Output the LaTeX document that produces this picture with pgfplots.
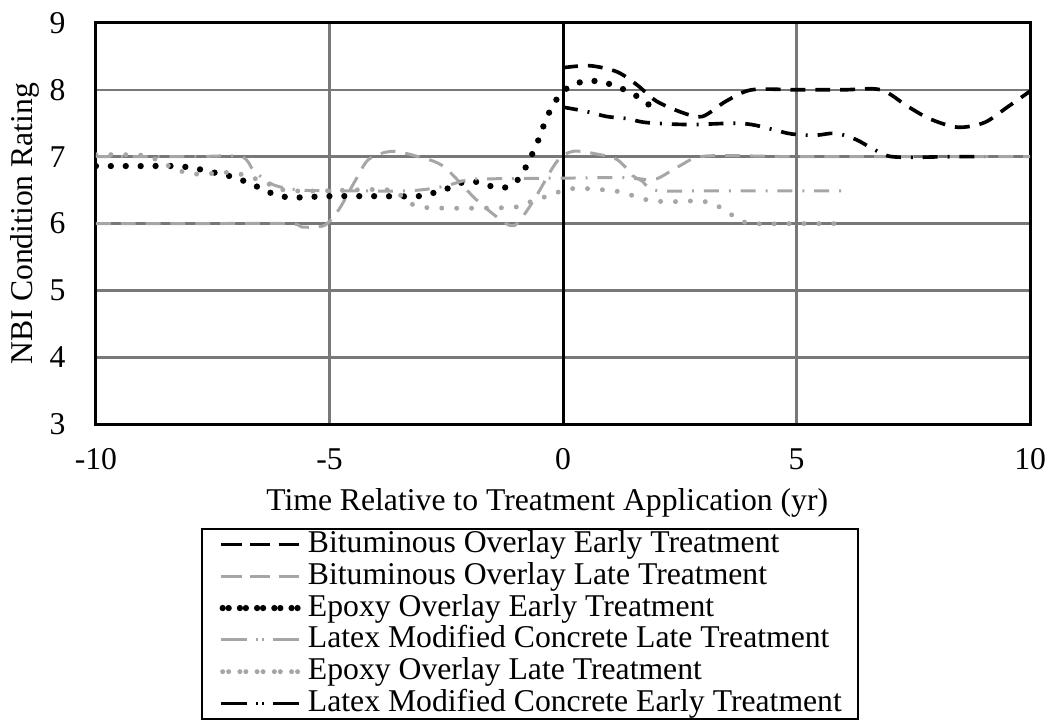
\documentclass[border=0pt]{standalone}
\usepackage{fontspec}
\setmainfont{Liberation Serif}
\usepackage{pgfplots}
\pgfplotsset{compat=1.18}
\definecolor{gridgr}{RGB}{120,120,120}
\definecolor{sergr}{RGB}{166,166,166}

\begin{document}
\begin{tikzpicture}
\begin{axis}[
    name=main,
    scale only axis,
    width=282bp, height=121.2bp,
    xmin=-10, xmax=10, ymin=3, ymax=9,
    xtick={-10,-5,0,5,10}, ytick={3,4,5,6,7,8,9},
    xticklabels={-10,-5,0,5,10}, yticklabels={3,4,5,6,7,8,9},
    extra x ticks={0}, extra x tick labels={},
    extra x tick style={grid style={black, line width=0.9bp}},
    major tick length=0pt,
    grid=major,
    grid style={gridgr, line width=0.75bp},
    axis line style={black, line width=0.9bp},
    font=\fontsize{9.6}{11}\selectfont,
    xticklabel style={anchor=center, yshift=-10.5bp},
    yticklabel style={anchor=east, inner sep=0pt, xshift=-9bp},
    xlabel={Time Relative to Treatment Application (yr)},
    ylabel={NBI Condition Rating},
    xlabel style={at={(axis description cs:0.483,-0.195)}, anchor=center},
    ylabel style={at={(axis description cs:-0.0755,0.5)}, anchor=center},
    legend style={at={(axis description cs:0.1128,-0.257)}, anchor=north west,
        draw=black, line width=0.6bp, inner xsep=4.8bp, inner ysep=0pt, row sep=0pt,
        nodes={inner sep=0pt, text height=7.2bp, text depth=2.4bp}},
    legend cell align=left,
    legend image code/.code={\path (0bp,0bp) -- (25.2bp,0bp);
        \draw[#1] (1.8bp,0bp) -- (23.4bp,0bp);},
]
% Bituminous Overlay Early Treatment
\addplot[forget plot, black, line width=1.1bp, dash pattern=on 4.5bp off 3bp, smooth, tension=0.5] coordinates {
    (0,8.33) (0.57,8.36) (1.15,8.27) (1.57,8.08) (2.0,7.83) (2.55,7.66) (2.98,7.60)
    (3.49,7.83) (4.04,8.0) (5,8.0) (6,8.0) (6.8,8.0) (7.38,7.75) (7.87,7.56)
    (8.45,7.44) (9.02,7.51) (9.51,7.74) (10,7.98)
};
% Bituminous Overlay Late Treatment
\addplot[forget plot, sergr, line width=0.9bp, dash pattern=on 4.5bp off 3bp, smooth, tension=0.5] coordinates {
    (-10,6.0) (-8,6.0) (-5.9,6.0) (-5.6,5.95) (-5.25,5.95) (-5.05,6.0) (-4.79,6.22)
    (-4.45,6.64) (-4.16,6.96) (-3.67,7.08) (-3.1,7.0) (-2.55,6.85) (-1.83,6.34)
    (-1.13,5.97) (-0.85,6.12) (-0.55,6.44) (-0.13,6.93) (0.21,7.08) (0.72,7.04)
    (1.15,6.96) (1.43,6.77) (1.57,6.68) (2.0,6.67) (2.49,6.86) (3.06,7.01)
    (5,7.0) (8,7.0) (10,7.0)
};
% Epoxy Overlay Early Treatment
\addplot[forget plot, black, line width=1.9bp, line cap=round, dash pattern=on 0bp off 4.5bp, smooth, tension=0.5] coordinates {
    (-10,6.86) (-9,6.86) (-8.3,6.86) (-7.9,6.83) (-7.6,6.78) (-7.3,6.74) (-7.0,6.68)
    (-6.66,6.59) (-6.37,6.49) (-6.04,6.41) (-5.7,6.39) (-5,6.41) (-4,6.41) (-3.1,6.41)
    (-2.77,6.46) (-2.45,6.53) (-2.13,6.62) (-1.81,6.62) (-1.49,6.55) (-1.17,6.55)
    (-0.91,6.70) (-0.76,6.9) (-0.62,7.1) (-0.5,7.3) (-0.38,7.53) (-0.24,7.74)
    (-0.05,7.94) (0.19,8.07) (0.5,8.13) (0.82,8.12) (1.14,8.05) (1.44,7.96)
    (1.72,7.84) (1.97,7.7)
};
% Latex Modified Concrete Late Treatment
\addplot[forget plot, sergr, line width=0.9bp, dash pattern=on 4.5bp off 3bp on 0.6bp off 3bp, smooth, tension=0.5] coordinates {
    (-10,7.0) (-8,7.0) (-6.9,7.0) (-6.62,6.79) (-6.2,6.58) (-5.6,6.5) (-4.5,6.49)
    (-3.3,6.49) (-2.6,6.55) (-2.0,6.66) (-1.49,6.67) (0,6.68) (1.5,6.68) (1.8,6.56)
    (2.06,6.49) (3,6.49) (4,6.49) (5,6.49) (6.04,6.49)
};
% Epoxy Overlay Late Treatment
\addplot[forget plot, sergr, line width=1.5bp, line cap=round, dash pattern=on 0bp off 4.5bp, smooth, tension=0.5] coordinates {
    (-10,7.03) (-9,7.02) (-8.6,6.92) (-8.32,6.82) (-8.0,6.75) (-7.68,6.74) (-7.36,6.76)
    (-7.04,6.76) (-6.72,6.70) (-6.38,6.62) (-6.13,6.53) (-5.81,6.49) (-5.1,6.49)
    (-4.0,6.51) (-3.6,6.48) (-3.26,6.30) (-2.94,6.24) (-2,6.23) (-0.98,6.25)
    (-0.66,6.34) (-0.34,6.41) (-0.02,6.49) (0.28,6.53) (0.57,6.52) (0.94,6.50)
    (1.26,6.47) (1.57,6.40) (1.89,6.34) (2.21,6.33) (2.53,6.33) (2.85,6.34)
    (3.17,6.31) (3.49,6.19) (3.74,6.07) (4.04,6.0) (5,6.0) (6.04,6.0)
};
% Latex Modified Concrete Early Treatment
\addplot[forget plot, black, line width=1.1bp, dash pattern=on 4.5bp off 3bp on 0.6bp off 3bp, smooth, tension=0.5] coordinates {
    (0,7.74) (0.47,7.68) (0.94,7.60) (1.36,7.57) (1.79,7.51) (2.7,7.48) (3.62,7.5)
    (4.04,7.48) (4.47,7.41) (4.89,7.34) (5.4,7.32) (5.83,7.35) (6.26,7.26)
    (6.6,7.13) (6.96,7.01) (7.45,6.99) (8.2,7.0) (9.02,7.0)
};
% legend samples, drawn with the coarser patterns of the reference legend
\addlegendimage{black, line width=1.1bp, dash pattern=on 4.3bp off 4.35bp}
\addlegendimage{sergr, line width=0.9bp, dash pattern=on 4.3bp off 4.35bp}
\addlegendimage{black, line width=1.9bp, line cap=round, dash pattern=on 0bp off 5.2bp, shorten <=0.4bp}
\addlegendimage{sergr, line width=0.9bp, dash pattern=on 6bp off 4.5bp on 0.6bp off 4.5bp}
\addlegendimage{sergr, line width=1.5bp, line cap=round, dash pattern=on 0bp off 5.2bp, shorten <=0.4bp}
\addlegendimage{black, line width=1.1bp, dash pattern=on 6bp off 4.5bp on 0.6bp off 4.5bp}
\legend{Bituminous Overlay Early Treatment,
        Bituminous Overlay Late Treatment,
        Epoxy Overlay Early Treatment,
        Latex Modified Concrete Late Treatment,
        Epoxy Overlay Late Treatment,
        Latex Modified Concrete Early Treatment}
\end{axis}
% room above the top tick label, as in the reference
\path (main.north) ++(0,6.9bp);
\end{tikzpicture}
\end{document}
